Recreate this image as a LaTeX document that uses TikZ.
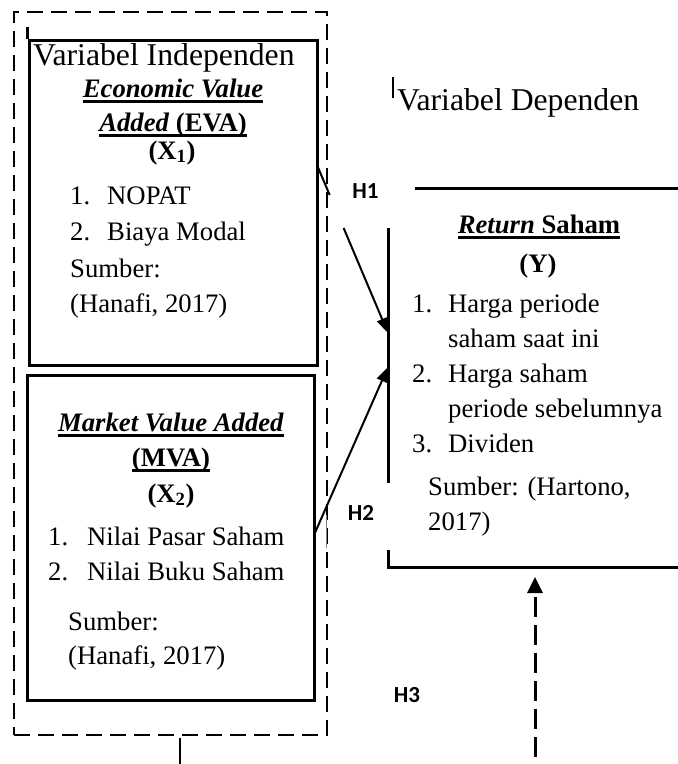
\documentclass[tikz,border=0pt]{standalone}
\usepackage{fontspec}
\setmainfont{Liberation Serif}
\newfontfamily\hfont{Carlito}
\usetikzlibrary{arrows.meta}
\newcommand\myul[1]{\setbox0\hbox{#1}\rlap{\rule[-5.5pt]{\wd0}{2.2pt}}\box0}
\begin{document}
\begin{tikzpicture}[x=1pt,y=-1pt,
  txt/.style={inner sep=0pt, font=\fontsize{26.7}{32}\selectfont},
  hdr/.style={inner sep=0pt, font=\fontsize{31.7}{38}\selectfont},
  hl/.style={inner sep=0pt, font=\fontsize{23}{28}\selectfont\hfont\bfseries},
  box/.style={draw, line width=3pt, inner sep=0pt},
  ybox/.style={line width=3pt},
  arr/.style={line width=2pt, -{Triangle[length=15pt,width=11pt]}},
  dasharr/.style={line width=3pt, dash pattern=on 20pt off 8pt, -{Triangle[length=16pt,width=15pt]}},
  outerbox/.style={draw, line width=2pt, dash pattern=on 16pt off 8pt, inner sep=0pt}]
\useasboundingbox (0,0) rectangle (678,764);

% outer dashed group
\node (outer) [outerbox, minimum width=313pt, minimum height=723pt] at (170.5,373.5) {};
\draw[line width=2.5pt] (180,738) -- (180,764);
\draw[gray, line width=0.6pt] (326,515) -- (326,548);

% EVA box
\node (eva) [box, minimum width=288pt, minimum height=325pt] at (173,202.5) {};
\draw[line width=3pt] (eva.north west) -- ++(0,-12);
\node (evahdr) [hdr, anchor=base west] at (33,65) {Variabel Independen};
\node (eva1) [txt, anchor=base] at (173,97) {\myul{\textbf{\textit{Economic Value}}}};
\node (eva2) [txt, anchor=base] at (173,131) {\myul{\textbf{\textit{Added} (EVA)}}};
\node (eva3) [txt, anchor=base] at (172,159) {\textbf{(X\textsubscript{1})}};
\node (eva4n) [txt, anchor=base west] at (70,204) {1.};
\node (eva4) [txt, anchor=base west] at (107,204) {NOPAT};
\node (eva5n) [txt, anchor=base west] at (70,240) {2.};
\node (eva5) [txt, anchor=base west] at (107,240) {Biaya Modal};
\node (eva6) [txt, anchor=base west] at (70,277) {Sumber:};
\node (eva7) [txt, anchor=base west] at (70,312) {(Hanafi, 2017)};

% MVA box
\node (mva) [box, minimum width=287pt, minimum height=325pt] at (170.5,537.5) {};
\node (mva1) [txt, anchor=base] at (171,431) {\myul{\textbf{\textit{Market Value Added}}}};
\node (mva2) [txt, anchor=base] at (171,466) {\myul{\textbf{(MVA)}}};
\node (mva3) [txt, anchor=base] at (171,502) {\textbf{(X\textsubscript{2})}};
\node (mva4n) [txt, anchor=base west] at (48,545) {1.};
\node (mva4) [txt, anchor=base west] at (87,545) {Nilai Pasar Saham};
\node (mva5n) [txt, anchor=base west] at (48,580) {2.};
\node (mva5) [txt, anchor=base west] at (87,580) {Nilai Buku Saham};
\node (mva6) [txt, anchor=base west] at (68,630) {Sumber:};
\node (mva7) [txt, anchor=base west] at (68,664) {(Hanafi, 2017)};

% dependent variable
\draw[line width=1.5pt] (393,77) -- (393,98);
\node (ydhdr) [hdr, anchor=base west] at (397,110) {Variabel Dependen};
\draw[ybox] (415,188) -- (678,188);
\draw[ybox] (388,228) -- (388,483);
\draw[ybox] (388,550) -- (388,567) -- (678,567);
\node (y1) [txt, anchor=base] at (539,233) {\myul{\textbf{\textit{Return} Saham}}};
\node (y2) [txt, anchor=base] at (538,272) {\textbf{(Y)}};
\node (y3n) [txt, anchor=base west] at (412,312) {1.};
\node (y3) [txt, anchor=base west] at (448,312) {Harga periode};
\node (y3b) [txt, anchor=base west] at (448,347) {saham saat ini};
\node (y4n) [txt, anchor=base west] at (412,382) {2.};
\node (y4) [txt, anchor=base west] at (448,382) {Harga saham};
\node (y4b) [txt, anchor=base west] at (448,417) {periode sebelumnya};
\node (y5n) [txt, anchor=base west] at (412,452) {3.};
\node (y5) [txt, anchor=base west] at (448,452) {Dividen};
\node (y6) [txt, anchor=base west] at (428,495) {Sumber: (Hartono,};
\node (y7) [txt, anchor=base west] at (428,530) {2017)};

% hypotheses
\node (h1) [hl, anchor=base] at (365.5,198) {H1};
\node (h2) [hl, anchor=base] at (361,520) {H2};
\node (h3) [hl, anchor=base] at (407,702) {H3};

\coordinate (a1s) at (317,165);
\coordinate (a1e) at (388,333);
\coordinate (a2s) at (314,535);
\coordinate (a2e) at (388,367);
\coordinate (a3s) at (535,757);
\coordinate (a3e) at (535,577);
\draw[arr, dash pattern=on 32.6pt off 35.8pt on 300pt off 0pt] (a1s) -- (a1e);
\draw[arr] (a2s) -- (a2e);
\draw[dasharr] (a3s) -- (a3e);
\end{tikzpicture}
\end{document}
